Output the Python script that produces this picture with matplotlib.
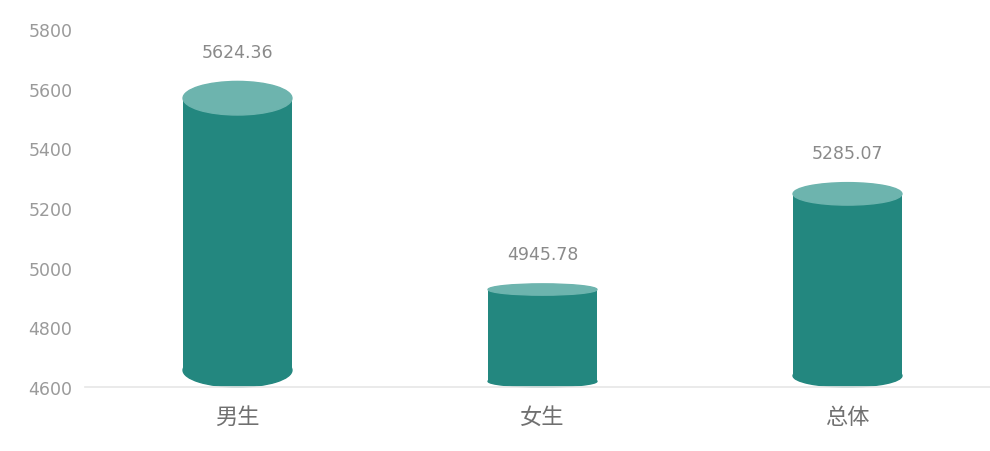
import matplotlib
matplotlib.use('Agg')
import matplotlib.pyplot as plt
from matplotlib.patches import Ellipse

plt.rcParams['font.family'] = ['Noto Sans CJK SC', 'DejaVu Sans']

categories = ['男生', '女生', '总体']
values = [5624.36, 4945.78, 5285.07]
yticks = [4600, 4800, 5000, 5200, 5400, 5600, 5800]

base = 4600
bar_w = 0.357
body_color = '#23877f'
top_color = '#6db4ae'

fig = plt.figure(figsize=(9.9, 4.52), dpi=100)
ax = fig.add_axes([85 / 990, 64 / 452, 905 / 990, 358 / 452])
ax.set_xlim(-0.5, -0.5 + 905 / 305)
ax.set_ylim(4600, 5800)

for i, v in enumerate(values):
    # ellipse height grows with the bar, like a perspective cylinder
    eh = 0.11 * (v - base)
    top_c = v - eh / 2
    bot_c = base + eh / 2
    ax.bar(i, top_c - bot_c, bottom=bot_c, width=bar_w, color=body_color, zorder=2)
    ax.add_patch(Ellipse((i, bot_c), bar_w, eh, color=body_color, zorder=2, clip_on=False))
    ax.add_patch(Ellipse((i, top_c), bar_w, eh, color=top_color, zorder=3))
    ax.annotate(f'{v:.2f}', (i, v), xytext=(0, 21.5), textcoords='offset points',
                ha='center', va='center', fontsize=12.5, color='#8a8a8a',
                family='DejaVu Sans')

ax.set_xticks(range(len(categories)))
ax.set_xticklabels(categories, fontsize=16, color='#707070')
ax.set_yticks(yticks)
ax.set_yticklabels([str(t) for t in yticks], fontsize=12.5, color='#9a9a9a',
                   family='DejaVu Sans')
ax.tick_params(axis='x', length=0, pad=13)
ax.tick_params(axis='y', length=0, pad=9)

for s in ['top', 'right', 'left']:
    ax.spines[s].set_visible(False)
ax.spines['bottom'].set_color('#e6e6e6')
ax.spines['bottom'].set_linewidth(1.2)

fig.savefig('out.png', dpi=100)
